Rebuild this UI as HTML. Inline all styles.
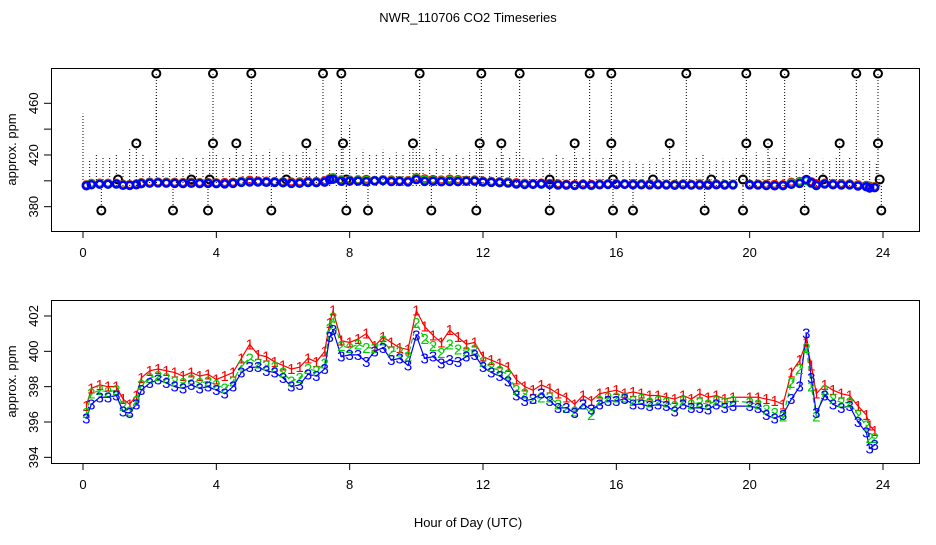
<!DOCTYPE html>
<html><head><meta charset="utf-8"><style>
body{margin:0;background:#fff}
svg text{font-family:"Liberation Sans",sans-serif}
</style></head><body>
<svg id="c" width="936" height="540" xmlns="http://www.w3.org/2000/svg">
<rect width="936" height="540" fill="#fff"/>
<text x="468" y="22" text-anchor="middle" font-size="13">NWR_110706  CO2 Timeseries</text>
<text x="468" y="527" text-anchor="middle" font-size="13">Hour of Day (UTC)</text>
<g id="top"></g>
<g id="bot"></g>
</svg>
<script>
const hours=[0.1,0.25,0.5,0.75,1.0,1.2,1.4,1.6,1.75,2.0,2.25,2.5,2.75,3.0,3.25,3.5,3.75,
4.0,4.25,4.5,4.75,5.0,5.25,5.5,5.75,6.0,6.25,6.5,6.75,7.0,7.25,7.4,7.5,7.75,
8.0,8.25,8.5,8.75,9.0,9.25,9.5,9.75,10.0,10.25,10.5,10.75,11.0,11.25,11.5,11.75,
12.0,12.25,12.5,12.75,13.0,13.25,13.5,13.75,14.0,14.25,14.5,14.75,15.0,15.25,15.5,15.75,
16.0,16.25,16.5,16.75,17.0,17.25,17.5,17.75,18.0,18.25,18.5,18.75,19.0,19.25,19.5,
20.0,20.25,20.5,20.75,21.0,21.25,21.5,21.7,21.85,22.0,22.25,22.5,22.75,23.0,23.25,23.5,23.6,23.75];
const s1=[396.9,397.9,398.1,398.0,398.0,397.3,397.0,397.5,398.5,398.9,399.0,398.9,398.8,398.6,398.8,398.6,398.7,
398.4,398.6,398.8,399.6,400.4,399.8,399.7,399.4,399.2,399.0,399.1,399.6,399.4,400.0,401.6,402.3,400.6,
400.5,400.7,401.0,400.3,400.8,400.5,400.2,400.1,402.3,401.4,400.9,400.5,401.2,400.8,400.4,400.5,
399.7,399.5,399.3,399.1,398.4,398.0,397.8,398.1,397.9,397.6,397.4,397.0,397.5,397.2,397.6,397.7,
397.8,397.6,397.7,397.6,397.5,397.5,397.4,397.3,397.5,397.3,397.6,397.4,397.5,397.3,397.4,
397.4,397.4,397.3,397.2,397.0,398.8,399.5,400.5,399.2,397.6,398.1,397.8,397.6,397.5,396.9,396.4,395.8,395.5];
const s2=[396.5,397.6,397.8,397.7,397.8,396.9,396.6,397.2,398.1,398.5,398.6,398.5,398.3,398.2,398.4,398.2,398.3,
398.1,397.9,398.3,399.2,399.6,399.3,399.2,399.1,398.8,398.3,398.5,399.0,398.9,399.3,401.3,401.9,400.3,
400.2,400.4,400.2,400.2,400.6,400.0,400.0,399.7,401.6,400.7,400.3,399.9,400.4,400.1,400.0,400.1,
399.4,399.1,398.9,398.7,397.8,397.6,397.3,397.4,397.4,397.0,396.8,396.6,397.0,396.4,397.2,397.4,
397.4,397.4,397.2,397.3,397.1,397.2,397.1,396.9,397.2,397.0,397.1,397.0,397.2,397.1,397.2,
397.1,397.0,396.7,396.5,396.3,398.2,399.0,400.2,398.0,396.3,397.8,397.3,397.1,397.1,396.4,395.8,395.1,395.1];
const s3=[396.2,397.0,397.4,397.4,397.5,396.6,396.5,397.0,397.8,398.2,398.4,398.2,398.0,397.9,398.1,397.9,398.0,
397.8,397.6,398.0,398.8,399.1,399.1,398.9,398.8,398.5,398.0,398.1,398.7,398.6,399.0,400.8,401.2,399.7,
399.8,399.8,399.4,400.0,400.2,399.5,399.6,399.2,400.9,399.6,399.7,399.3,399.5,399.4,399.7,399.8,
399.1,398.8,398.6,398.3,397.5,397.2,397.3,397.6,397.2,396.8,396.8,396.5,397.0,396.7,397.0,397.2,
397.2,397.3,397.0,397.0,396.9,397.0,396.9,396.6,397.0,396.8,396.8,396.7,397.0,396.8,396.9,
396.9,396.8,396.4,396.2,396.4,397.3,398.0,401.0,398.5,396.5,397.5,397.0,396.8,396.9,396.0,395.4,394.5,394.7];
const outHours=[2.2,3.9,5.05,7.2,7.75,10.1,11.95,13.1,15.2,15.85,18.1,19.9,21.05,23.2,23.85,
1.6,3.9,4.6,6.7,7.8,9.9,11.9,12.55,14.75,15.85,17.6,19.9,20.55,22.7,23.85,
1.05,3.25,3.8,6.1,7.9,14.0,15.9,17.1,18.85,19.8,22.2,23.9,
0.55,2.7,3.75,5.65,7.9,8.55,10.45,11.8,14.0,15.9,16.5,18.65,19.8,21.65,23.95];
const outVals=[483,483,483,483,483,483,483,483,483,483,483,483,483,483,483,
429,429,429,429,429,429,429,429,429,429,429,429,429,429,429,
401,401,401,401,401,401,401,401,401,401,401,401,
377,377,377,377,377,377,377,377,377,377,377,377,377,377,377];
const spikeHours=[0,0.2,0.4,0.6,0.8,1.0,1.2,1.4,1.6,1.8,2.0,2.2,2.4,2.6,2.8,3.0,3.2,3.4,3.6,3.8,4.0,4.2,4.4,4.6,4.8,5.0,5.2,5.4,5.6,5.8,6.0,6.2,6.4,6.6,6.8,7.0,7.2,7.4,7.6,7.8,8.0,8.2,8.4,8.6,8.8,9.0,9.2,9.4,9.6,9.8,10.0,10.2,10.4,10.6,10.8,11.0,11.2,11.4,11.6,11.8,12.0,12.2,12.4,12.6,12.8,13.0,13.2,13.4,13.6,13.8,14.0,14.2,14.4,14.6,14.8,15.0,15.2,15.4,15.6,15.8,16.0,16.2,16.4,16.6,16.8,17.0,17.2,17.4,17.6,17.8,18.0,18.2,18.4,18.6,18.8,19.0,19.2,19.4,19.6,19.8,20.0,20.2,20.4,20.6,20.8,21.0,21.2,21.4,21.6,21.8,22.0,22.2,22.4,22.6,22.8,23.0,23.2,23.4,23.6,23.8];
const spikeTops=[452,417,420,419,418,420,416,425,418,421,417,466,415,417,419,418,416,419,418,422,420,419,419,420,421,418,421,421,424,418,422,421,420,423,418,426,437,416,420,425,443,418,424,421,420,424,418,422,421,422,424,419,420,425,421,419,420,419,422,423,416,417,418,420,418,423,419,417,416,418,415,421,418,416,419,418,420,417,418,419,413,416,415,414,413,415,414,418,420,416,415,416,418,421,416,415,417,416,419,418,417,422,416,418,419,418,416,415,414,418,416,417,416,418,416,419,418,417,416,413];

const NS='http://www.w3.org/2000/svg';
function mk(parent,tag,attrs){const e=document.createElementNS(NS,tag);for(const k in attrs)e.setAttribute(k,attrs[k]);parent.appendChild(e);return e;}
const X=h=>83+h*33.333;
const Yt=v=>186-(v-396)*1.2925;
const Yb=v=>422-(v-396)*17.67;

function axes(g,top,bot,yt,yticks,ylabels,pre){
  let r=mk(g,'rect',{x:51.5,y:top+.5,width:868,height:bot-top,fill:'none',stroke:'#000'});
  
  
  [0,4,8,12,16,20,24].forEach(h=>{
    let t=mk(g,'line',{x1:X(h),x2:X(h),y1:bot,y2:bot+7,stroke:'#000'});
    
    
    let l=mk(g,'text',{x:X(h),y:bot+26,'text-anchor':'middle','font-size':'13'});l.textContent=h;
    
    
  });
  yticks.forEach((v,i)=>{
    let t=mk(g,'line',{x1:44,x2:51,y1:yt(v),y2:yt(v),stroke:'#000'});
    
    
    if(ylabels[i]){let l=mk(g,'text',{x:38,y:yt(v),'text-anchor':'middle','font-size':'13',transform:`rotate(-90 38 ${yt(v)})`});l.textContent=ylabels[i];
    
    }
  });
  let yl=mk(g,'text',{x:16,y:(top+bot)/2,'text-anchor':'middle','font-size':'13',transform:`rotate(-90 16 ${(top+bot)/2})`});yl.textContent='approx. ppm';
  
  
}
const gt=document.getElementById('top'),gb=document.getElementById('bot');
axes(gt,68,231,Yt,[380,400,420,440,460],['380','','420','','460'],'top');
axes(gb,300,463,Yb,[394,396,398,400,402],['394','396','398','400','402'],'bottom');

spikeHours.forEach((h,i)=>{
  let l=mk(gt,'line',{x1:X(h),x2:X(h),y1:Yt(396),y2:Yt(spikeTops[i]),stroke:'#000','stroke-width':1,'stroke-dasharray':'1,2'});
  
  
});
outHours.forEach((h,i)=>{
  let l=mk(gt,'line',{x1:X(h),x2:X(h),y1:Yt(396),y2:Yt(outVals[i]),stroke:'#000','stroke-width':1,'stroke-dasharray':'1,2'});
  
  
  let c=mk(gt,'circle',{cx:X(h),cy:Yt(outVals[i]),r:4,fill:'none',stroke:'#000','stroke-width':2});
  
  
});
[[s1,'#f00'],[s2,'#0c0'],[s3,'#00f']].forEach(([s,col],k)=>{
  hours.forEach((h,i)=>{
    let c=mk(gt,'circle',{cx:X(h),cy:Yt(s[i]),r:3.5,fill:'none',stroke:col,'stroke-width':2.5});
    
    
  });
});
const styles=[[s1,'#f00','','1'],[s2,'#0c0','5,3','2'],[s3,'#00f','','3']];
styles.forEach(([s,col,dash,lab])=>{
  let p=mk(gb,'polyline',{points:hours.map((h,i)=>X(h)+','+Yb(s[i])).join(' '),fill:'none',stroke:col,'stroke-width':1.2,'stroke-dasharray':dash});
  
  
});
styles.forEach(([s,col,dash,lab])=>{
  hours.forEach((h,i)=>{
    let t=mk(gb,'text',{x:X(h),y:Yb(s[i])+5,'text-anchor':'middle','font-size':'15',fill:col});t.textContent=lab;
    
    
  });
});
</script>
</body></html>
